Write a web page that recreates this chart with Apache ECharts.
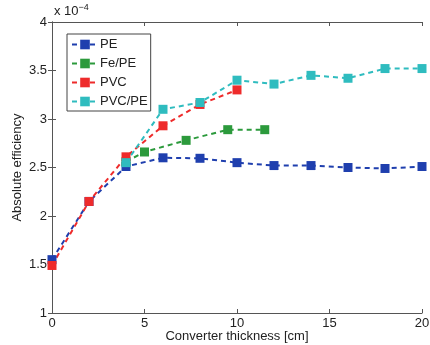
<!DOCTYPE html>
<html>
<head>
<meta charset="utf-8">
<script src="https://cdn.jsdelivr.net/npm/echarts@6/dist/echarts.min.js"></script>
<style>
  html, body { margin: 0; padding: 0; background: #fff; }
  #chart { width: 430px; height: 345px; }
</style>
</head>
<body>
<div id="chart"></div>
<script>
// values in units of 1e-4
const peX = [0, 2, 4, 6, 8, 10, 12, 14, 16, 18, 20]
const peY = [1.55, 2.15, 2.51, 2.60, 2.595, 2.55, 2.52, 2.52, 2.50, 2.49, 2.51]
const fePeX = [4, 5, 7.25, 9.5, 11.5]
const fePeY = [2.56, 2.66, 2.78, 2.89, 2.89]
const pvcX = [0, 2, 4, 6, 8, 10]
const pvcY = [1.49, 2.15, 2.61, 2.93, 3.15, 3.30]
const pvcPeX = [4, 6, 8, 10, 12, 14, 16, 18, 20]
const pvcPeY = [2.55, 3.10, 3.17, 3.40, 3.36, 3.45, 3.42, 3.52, 3.52]

const xTicks = [0, 5, 10, 15, 20]
const yTicks = [1, 1.5, 2, 2.5, 3, 3.5, 4]

const FONT = 'Liberation Sans, Arial, sans-serif'
const AXIS_COLOR = '#555'

const pairs = (xs, ys) => xs.map((x, i) => [x, ys[i]])

// 单条折线配置
const makeSeries = (name, xs, ys, color) => ({
  name,
  type: 'line',
  data: pairs(xs, ys),
  symbol: 'rect',
  symbolSize: 9,
  showSymbol: true,
  itemStyle: { color },
  lineStyle: { color, width: 2, type: [5, 4] },
  emphasis: { disabled: true },
  animation: false,
})

const baseAxis = {
  axisLine: { show: true, lineStyle: { color: AXIS_COLOR, width: 1 } },
  axisTick: { show: true, inside: true, length: 4, lineStyle: { color: AXIS_COLOR } },
  splitLine: { show: false },
}

const chart = echarts.init(document.getElementById('chart'))

chart.setOption({
  backgroundColor: '#fff',
  grid: { left: 52, right: 8, top: 22, bottom: 32, containLabel: false, outerBoundsMode: 'none' },
  legend: {
    orient: 'vertical',
    left: 67,
    top: 34,
    padding: [4, 3, 3, 4],
    itemWidth: 26,
    itemHeight: 12,
    itemGap: 6,
    borderColor: '#444',
    borderWidth: 1,
    textStyle: { fontFamily: FONT, fontSize: 13, color: '#222', padding: [0, 0, 0, -3] },
    data: ['PE', 'Fe/PE', 'PVC', 'PVC/PE'],
  },
  xAxis: [
    {
      ...baseAxis,
      type: 'value',
      min: 0,
      max: 20,
      interval: 5,
      name: 'Converter thickness [cm]',
      nameLocation: 'middle',
      nameGap: 17,
      nameMoveOverlap: false,
      nameTextStyle: { fontFamily: FONT, fontSize: 13, color: '#222' },
      axisLabel: {
        fontFamily: FONT,
        fontSize: 13,
        color: '#222',
        margin: 4,
        formatter: v => (xTicks.includes(v) ? String(v) : ''),
      },
    },
    {
      ...baseAxis,
      type: 'value',
      position: 'top',
      min: 0,
      max: 20,
      interval: 5,
      axisLabel: { show: false },
    },
  ],
  yAxis: [
    {
      ...baseAxis,
      type: 'value',
      min: 1,
      max: 4,
      interval: 0.5,
      name: 'Absolute efficiency',
      nameLocation: 'middle',
      nameGap: 28,
      nameMoveOverlap: false,
      nameTextStyle: { fontFamily: FONT, fontSize: 13, color: '#222' },
      axisLabel: {
        fontFamily: FONT,
        fontSize: 13,
        color: '#222',
        margin: 5,
        formatter: v => (yTicks.includes(v) ? String(v) : ''),
      },
    },
    {
      ...baseAxis,
      type: 'value',
      position: 'right',
      min: 1,
      max: 4,
      interval: 0.5,
      axisLabel: { show: false },
    },
  ],
  graphic: [
    {
      type: 'text',
      left: 54,
      top: 3,
      style: {
        text: 'x 10{sup|−4}',
        fontFamily: FONT,
        fontSize: 13,
        fill: '#222',
        rich: { sup: { fontFamily: FONT, fontSize: 9, fill: '#222', verticalAlign: 'top', padding: [0, 0, 8, 0] } },
      },
    },
  ],
  series: [
    makeSeries('PE', peX, peY, '#1f3fae'),
    makeSeries('Fe/PE', fePeX, fePeY, '#2c9a3c'),
    makeSeries('PVC', pvcX, pvcY, '#ee2b2b'),
    makeSeries('PVC/PE', pvcPeX, pvcPeY, '#2fbcbf'),
  ],
})
</script>
</body>
</html>
